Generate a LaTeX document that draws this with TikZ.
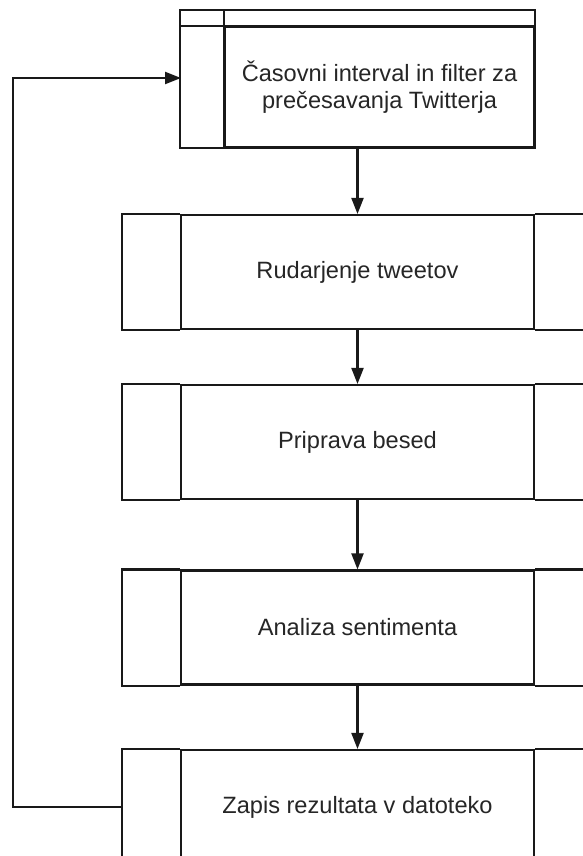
\documentclass[tikz,border=0pt]{standalone}
\usepackage{fontspec}
\setmainfont{Liberation Sans}
\usetikzlibrary{arrows.meta,calc}
\tikzset{
  ln/.style={line width=2.1pt,draw=black!90},
  procbox/.style={ln,rectangle,inner sep=0pt,minimum width=353pt,minimum height=114pt,align=center,
    font=\fontsize{23.6}{27}\selectfont,text=black!85},
  topbox/.style={ln,rectangle,inner sep=0pt,minimum width=309pt,minimum height=120pt,align=center,
    font=\fontsize{23.6}{27}\selectfont,text=black!85},
  arr/.style={ln,-{Triangle[length=16pt,width=12pt]}}
}
\begin{document}
\begin{tikzpicture}[x=1pt,y=-1pt]
\useasboundingbox (0,0) rectangle (583,856);
\clip (0,0) rectangle (583,856);
\fill[white] (0,0) rectangle (583,856);
% top box
\node[topbox] (t) at (379.5,87) {Časovni interval in filter za\\prečesavanja Twitterja};
\draw[ln] ([xshift=-44pt]t.south west) rectangle ([yshift=16pt]t.north east);
\draw[ln] ([xshift=-44pt]t.north west) -- (t.north east);
\draw[ln] ([yshift=16pt]t.north west) -- (t.south west);
\coordinate (tin) at (181,78);
% process boxes
\node[procbox] (b1) at (357.5,272) {Rudarjenje tweetov};
\node[procbox] (b2) at (357.5,442) {Priprava besed};
\node[procbox] (b3) at (357.5,627.5) {Analiza sentimenta};
\node[procbox] (b4) at (357.5,807) {Zapis rezultata v datoteko};
\foreach \b in {b1,b2,b3,b4}{
  \draw[ln] (\b.north west) -- ++(-58,0) |- (\b.south west);
  \draw[ln] (\b.north east) -- ++(80,0) |- (\b.south east);
}
% arrows
\draw[arr] (t.south -| b1.north) -- (b1.north);
\draw[arr] (b1.south) -- (b2.north);
\draw[arr] (b2.south) -- (b3.north);
\draw[arr] (b3.south) -- (b4.north);
\coordinate (b4o) at ([xshift=-58pt]b4.west);
\draw[arr] (b4o) -- ++(-109,0) |- (tin);
\end{tikzpicture}
\end{document}
